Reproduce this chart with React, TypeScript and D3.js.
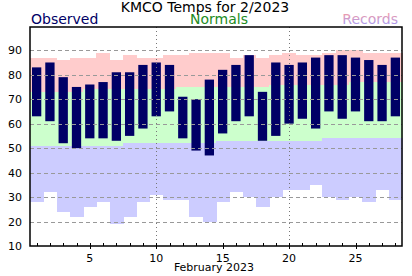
import React, { useRef, useEffect } from 'react';
import * as d3 from 'd3';

const days = d3.range(1, 29);
const obsHigh = [83, 85, 79, 75, 76, 77, 81, 81, 84, 85, 84, 71, 70, 78, 82, 84, 88, 73, 85, 84, 85, 87, 88, 88, 87, 86, 84, 87];
const obsLow = [63, 61, 52, 50, 54, 54, 53, 55, 58, 63, 65, 54, 49, 47, 56, 61, 63, 53, 55, 60, 62, 58, 65, 62, 65, 61, 61, 63];
const normalHigh = [73, 73, 73, 73, 74, 74, 74, 74, 74, 74, 74, 75, 75, 75, 75, 75, 75, 75, 76, 76, 76, 76, 76, 76, 77, 77, 77, 77];
const normalLow = [51, 51, 51, 51, 51, 51, 51, 52, 52, 52, 52, 52, 52, 52, 53, 53, 53, 53, 53, 53, 53, 53, 54, 54, 54, 54, 54, 54];
const recordHigh = [87, 87, 86, 87, 87, 89, 86, 88, 87, 87, 88, 88, 89, 89, 89, 87, 88, 87, 88, 89, 88, 88, 89, 90, 90, 89, 89, 89];
const recordLow = [28, 32, 24, 22, 26, 28, 19, 22, 28, 31, 29, 29, 22, 20, 28, 32, 30, 26, 30, 33, 33, 35, 30, 29, 30, 28, 33, 29];
const yTicks = [10, 20, 30, 40, 50, 60, 70, 80, 90];
const xLabelTicks = [5, 10, 15, 20, 25];

const W = 412;
const H = 276;

export default function App() {
  const ref = useRef<SVGSVGElement>(null);

  useEffect(() => {
    const svg = d3.select(ref.current);
    svg.selectAll('*').remove();
    const margin = { top: 27, right: 10, bottom: 30, left: 30 };
    const x = d3.scaleLinear().domain([0.5, 28.5]).range([margin.left, W - margin.right]);
    const y = d3.scaleLinear().domain([10, 99.5]).range([H - margin.bottom, margin.top]);
    const step = x(2) - x(1);
    const font = 'DejaVu Sans, Verdana, sans-serif';

    const defs = svg.append('defs');
    const grad = defs.append('linearGradient').attr('id', 'recgrad').attr('x1', 0).attr('y1', 0).attr('x2', 0).attr('y2', 1);
    grad.append('stop').attr('offset', '0%').attr('stop-color', '#ff9a9a');
    grad.append('stop').attr('offset', '100%').attr('stop-color', '#9a9aff');

    const g = svg.append('g');
    const band = (vals1: number[], vals2: number[], color: string) => {
      g.append('g')
        .selectAll('rect')
        .data(days)
        .enter()
        .append('rect')
        .attr('x', (d) => x(d - 0.5))
        .attr('width', step + 0.5)
        .attr('y', (d, i) => y(vals1[i]))
        .attr('height', (d, i) => y(vals2[i]) - y(vals1[i]))
        .attr('fill', color)
        .attr('shape-rendering', 'crispEdges');
    };
    band(recordHigh, normalHigh, '#ffcccc');
    band(normalHigh, normalLow, '#ccffcc');
    band(normalLow, recordLow, '#ccccff');

    // observed bars
    g.append('g')
      .selectAll('rect')
      .data(days)
      .enter()
      .append('rect')
      .attr('x', (d) => x(d) - step * 0.35)
      .attr('width', step * 0.7)
      .attr('y', (d, i) => y(obsHigh[i]))
      .attr('height', (d, i) => y(obsLow[i]) - y(obsHigh[i]))
      .attr('fill', '#000066');

    // grid
    g.append('g')
      .selectAll('line')
      .data(yTicks.filter((t) => t > 10))
      .enter()
      .append('line')
      .attr('x1', x(0.5))
      .attr('x2', x(28.5))
      .attr('y1', (d) => Math.round(y(d)) + 0.5)
      .attr('y2', (d) => Math.round(y(d)) + 0.5)
      .attr('stroke', '#999')
      .attr('stroke-dasharray', '4,3');
    g.append('g')
      .selectAll('line')
      .data([10, 20])
      .enter()
      .append('line')
      .attr('x1', (d) => Math.round(x(d)) + 0.5)
      .attr('x2', (d) => Math.round(x(d)) + 0.5)
      .attr('y1', y(99.5))
      .attr('y2', y(10))
      .attr('stroke', '#777')
      .attr('stroke-dasharray', '1,3');

    // frame
    g.append('rect')
      .attr('x', x(0.5))
      .attr('y', y(99.5))
      .attr('width', x(28.5) - x(0.5))
      .attr('height', y(10) - y(99.5))
      .attr('fill', 'none')
      .attr('stroke', '#000')
      .attr('stroke-width', 1.5);

    // x ticks
    g.append('g')
      .selectAll('line')
      .data(days)
      .enter()
      .append('line')
      .attr('x1', (d) => Math.round(x(d)) + 0.5)
      .attr('x2', (d) => Math.round(x(d)) + 0.5)
      .attr('y1', y(10) - 3)
      .attr('y2', (d) => (d % 5 === 0 ? y(10) + 3 : y(10)))
      .attr('stroke', '#000');

    g.append('g')
      .selectAll('text')
      .data(xLabelTicks)
      .enter()
      .append('text')
      .attr('x', (d) => x(d))
      .attr('y', y(10) + 16)
      .attr('text-anchor', 'middle')
      .attr('font-family', font)
      .attr('font-size', 11)
      .text((d) => d);

    g.append('g')
      .selectAll('text')
      .data(yTicks)
      .enter()
      .append('text')
      .attr('x', 22)
      .attr('y', (d) => y(d) + 4)
      .attr('text-anchor', 'end')
      .attr('font-family', font)
      .attr('font-size', 11)
      .text((d) => d);

    svg.append('text')
      .attr('x', x(14.5) - 2)
      .attr('y', 271)
      .attr('text-anchor', 'middle')
      .attr('font-family', font)
      .attr('font-size', 11)
      .text('February 2023');

    // title and legend
    svg.append('text')
      .attr('x', 205)
      .attr('y', 12)
      .attr('text-anchor', 'middle')
      .attr('font-family', font)
      .attr('font-size', 14)
      .text('KMCO Temps for 2/2023');
    svg.append('text')
      .attr('x', 31)
      .attr('y', 24)
      .attr('font-family', font)
      .attr('font-size', 14)
      .attr('fill', '#000066')
      .text('Observed');
    svg.append('text')
      .attr('x', 219)
      .attr('y', 24)
      .attr('text-anchor', 'middle')
      .attr('font-family', font)
      .attr('font-size', 14)
      .attr('fill', '#228b22')
      .text('Normals');
    svg.append('text')
      .attr('x', 398)
      .attr('y', 24)
      .attr('text-anchor', 'end')
      .attr('font-family', font)
      .attr('font-size', 14)
      .attr('fill', 'url(#recgrad)')
      .text('Records');
  }, []);

  return (
    <svg
      ref={ref}
      width={W}
      height={H}
      style={{ position: 'absolute', left: 0, top: 0, background: '#fff' }}
    ></svg>
  );
}
